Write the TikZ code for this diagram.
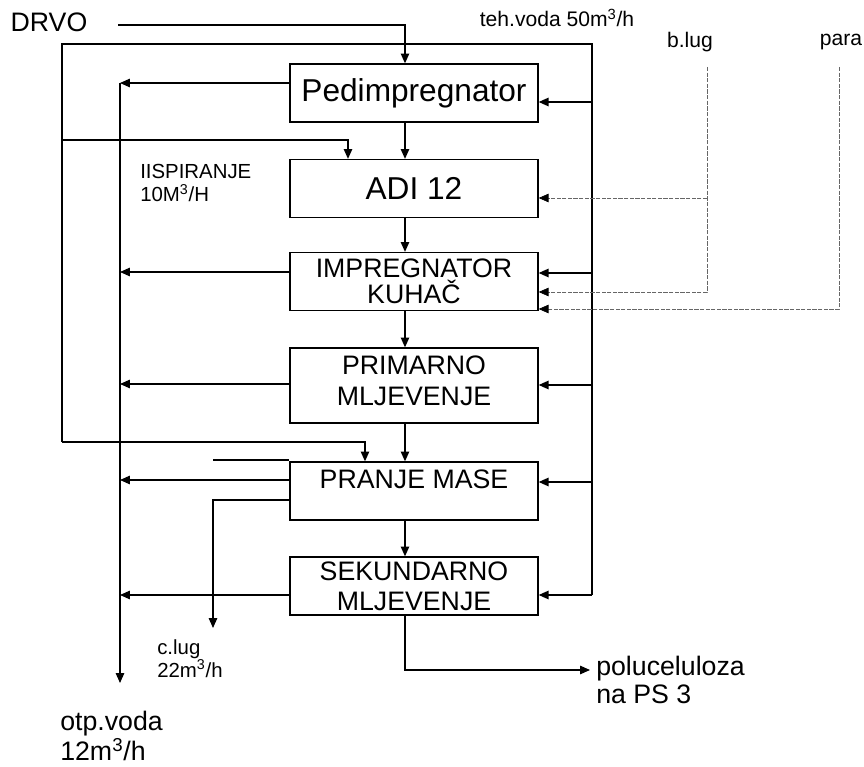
\documentclass[tikz,border=0pt]{standalone}
\usepackage{fontspec}
\setmainfont{Liberation Sans}
\usetikzlibrary{arrows.meta}

\begin{document}
\begin{tikzpicture}[
  x=0.025cm, y=-0.025cm,
  stage/.style={draw, line width=0.9pt, minimum width=6.2cm, minimum height=1.45cm,
                align=center, inner sep=0pt, font=\fontsize{19}{21.5}\selectfont},
  bigstage/.style={stage, font=\fontsize{22.5}{24}\selectfont},
  flow/.style={line width=0.9pt},
  arr/.style={flow, -{Triangle[length=7pt, width=6pt]}},
  lugline/.style={gray!80!black, line width=0.5pt, dash pattern=on 3pt off 1pt},
  lugarr/.style={lugline, -{Triangle[length=7pt, width=6pt, color=black]}},
  lbl/.style={inner sep=0pt, align=left},
]
  \useasboundingbox (0,0) rectangle (864,767);

  % Process stages
  \node[bigstage] (ped) at (414,93) {Pedimpregnator};
  \node[bigstage] (adi) at (414,188.5) {ADI 12};
  \node[stage, font=\fontsize{19}{18.5}\selectfont] (imp) at (414,281.5) {IMPREGNATOR\\KUHAČ};
  \node[stage, minimum height=1.875cm] (prim) at (414,385.5) {PRIMARNO\\MLJEVENJE\\[-14.5pt]};
  \node[stage, text height=13pt, text depth=17pt] (pran) at (414,491) {PRANJE MASE};
  \node[stage] (sek) at (414,586) {SEKUNDARNO\\MLJEVENJE};

  % Wood in, main line
  \coordinate (cx) at (405,0);
  \coordinate (din) at (118,25);
  \node[lbl, font=\fontsize{19}{21}\selectfont] (drvo) at (49,22) {DRVO};
  \draw[arr] (din) -| (cx |- ped.north);
  \foreach \a/\b in {ped/adi, adi/imp, imp/prim, prim/pran, pran/sek}
    \draw[arr] (cx |- \a.south) -- (cx |- \b.north);

  % Process water loop
  \coordinate (tl) at (62,44);
  \coordinate (tr) at (592,44);
  \coordinate (bl) at (62,442);
  \coordinate (rb) at (592,595);
  \coordinate (ia) at (348,140);
  \coordinate (ip) at (365,442);
  \node[lbl, font=\fontsize{15}{17}\selectfont] (teh) at (557,18) {teh.voda 50m\textsuperscript{3}/h};
  \draw[flow] (rb) -- (tr) -- (tl) -- (bl);
  \draw[arr] (tl |- ia) -| (ia |- adi.north);
  \draw[arr] (bl) -| (ip |- pran.north);
  \foreach \b/\y in {ped/102, imp/273, prim/385, pran/482, sek/595} {
    \coordinate (rin) at (592,\y);
    \draw[arr] (rin) -- (rin -| \b.east);
  }
  \node[lbl, anchor=north west, font=\fontsize{14.5}{16.5}\selectfont] (isp) at (140,164) {IISPIRANJE\\10M\textsuperscript{3}/H};

  % Waste water
  \coordinate (ltop) at (120,83);
  \coordinate (lbot) at (120,683);
  \draw[arr] (ltop) -- (lbot);
  \foreach \b/\y in {ped/83, imp/272, prim/384, pran/480, sek/595} {
    \coordinate (lout) at (120,\y);
    \draw[arr] (lout -| \b.west) -- (lout);
  }
  \node[lbl, anchor=north west, font=\fontsize{19}{21}\selectfont] (otp) at (60,711) {otp.voda\\12m\textsuperscript{3}/h};

  % Weak liquor out
  \coordinate (cl) at (213,500);
  \coordinate (clend) at (213,628);
  \coordinate (stub) at (213,460);
  \draw[arr] (cl -| pran.west) -- (cl) -- (clend);
  \draw[flow] (stub) -- (stub -| pran.west);
  \node[lbl, anchor=north west, font=\fontsize{14.5}{15}\selectfont] (clug) at (157,639) {c.lug\\22m\textsuperscript{3}/h};

  % Product
  \coordinate (pin) at (590,670);
  \draw[arr] (cx |- sek.south) |- (pin);
  \node[lbl, anchor=north west, font=\fontsize{19}{20}\selectfont] (pol) at (596,656) {poluceluloza\\na PS 3};

  % Black liquor and steam
  \coordinate (blt) at (707,67);
  \coordinate (bla) at (707,198);
  \coordinate (bli) at (707,292);
  \coordinate (part) at (839,67);
  \coordinate (pari) at (839,309);
  \node[lbl, font=\fontsize{15}{17}\selectfont] (blug) at (690,42) {b.lug};
  \node[lbl, font=\fontsize{15}{17}\selectfont] (para) at (841,42) {para};
  \draw[lugarr] (blt) |- (bli -| imp.east);
  \draw[lugarr] (bla) -- (bla -| adi.east);
  \draw[lugarr] (part) |- (pari -| imp.east);

\end{tikzpicture}
\end{document}
